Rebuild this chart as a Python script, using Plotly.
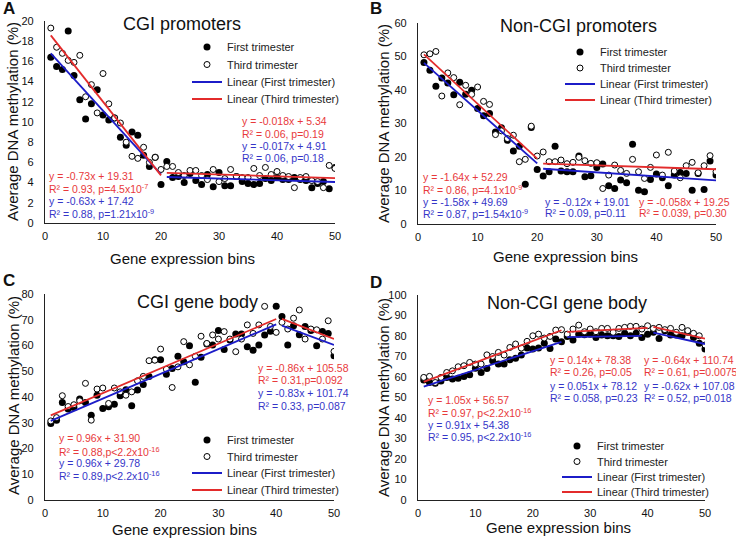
import plotly.graph_objects as go

W, H = 736, 538
FONT = "Liberation Sans, Arial, sans-serif"
RED_LINE = "#E32B2B"
BLUE_LINE = "#1C1CC8"
RED_TXT = "#E8393B"
BLUE_TXT = "#3535C8"
EQ_SIZE = 10.5

bins = list(range(1, 51))

# ---------------- data ----------------
a_first = [16.4, 15.5, 15.2, 19.0, 14.6, 12.2, 10.3, 11.8, 13.2, 10.7,
           10.2, 10.4, 8.5, 7.7, 9.0, 8.7, 6.7, 5.6, 6.5, 3.8,
           6.1, 4.5, 4.6, 4.0, 4.9, 4.2, 3.8, 4.8, 3.6, 5.0,
           3.7, 3.7, 4.6, 4.1, 3.9, 3.8, 3.9, 4.4, 4.2, 4.5,
           4.3, 4.3, 4.5, 4.3, 4.2, 3.5, 3.9, 4.1, 3.4, 5.5]
a_third = [19.3, 17.4, 16.8, 16.1, 15.9, 16.6, 12.5, 13.7, 10.9, 14.8,
           11.8, 10.4, 9.9, 8.0, 6.6, 6.4, 7.5, 6.0, 6.5, 5.3,
           5.6, 5.6, 5.0, 4.7, 5.2, 5.2, 4.7, 4.3, 5.3, 4.1,
           4.4, 5.3, 4.6, 4.5, 4.5, 5.4, 4.7, 5.5, 4.8, 5.1,
           4.7, 4.6, 3.5, 4.5, 4.6, 4.2, 4.1, 3.5, 5.7, 5.4]

b_first = [48.2, 45.9, 41.1, 43.6, 42.1, 38.6, 42.3, 38.7, 39.9, 34.5,
           32.3, 33.0, 27.5, 28.7, 25.0, 21.8, 23.2, 11.9, 28.8, 16.3,
           14.3, 15.6, 23.2, 15.8, 15.6, 15.6, 20.3, 14.1, 14.4, 16.9,
           17.9, 11.4, 10.6, 13.1, 12.3, 23.8, 10.1, 9.6, 13.3, 14.9,
           13.8, 11.4, 14.6, 15.4, 15.1, 10.1, 15.1, 10.3, 18.8, 14.6]
b_third = [50.5, 50.8, 51.5, 38.2, 45.1, 43.7, 35.6, 41.4, 38.7, 40.9,
           36.6, 35.7, 26.7, 27.8, 25.5, 26.5, 18.6, 19.3, 29.2, 20.3,
           21.5, 18.6, 18.6, 19.1, 18.0, 18.4, 19.9, 18.9, 18.1, 18.3,
           10.6, 14.6, 17.6, 16.0, 15.1, 19.3, 15.6, 13.6, 16.9, 20.6,
           14.6, 21.4, 15.8, 13.8, 17.4, 18.4, 15.3, 17.4, 20.4, 15.6]

c_first = [29.7, 31.0, 37.9, 35.3, 35.9, 39.2, 37.9, 32.9, 40.7, 35.5,
           36.2, 37.2, 40.5, 42.8, 36.6, 42.7, 44.9, 48.0, 54.5, 54.5,
           48.8, 51.1, 55.8, 53.7, 59.9, 45.7, 55.4, 60.6, 60.2, 65.8,
           58.4, 62.1, 64.5, 64.5, 59.5, 58.2, 60.2, 64.1, 65.5, 75.2,
           71.3, 60.2, 67.7, 64.2, 67.4, 65.8, 59.9, 65.4, 64.7, 56.0]
c_third = [30.7, 32.0, 40.5, 36.3, 37.0, 38.5, 45.3, 31.0, 43.1, 43.5,
           37.5, 43.5, 42.0, 40.7, 42.0, 46.3, 48.0, 54.1, 54.3, 58.6,
           50.8, 43.7, 51.7, 61.5, 52.5, 55.8, 63.6, 60.8, 64.1, 62.5,
           65.4, 62.5, 57.6, 62.5, 68.0, 64.7, 68.0, 75.2, 67.4, 65.1,
           69.0, 66.4, 70.6, 73.8, 62.5, 66.4, 66.1, 62.5, 69.6, 57.7]

d_first = [58.5, 57.3, 57.0, 58.1, 59.8, 59.0, 59.4, 60.3, 61.1, 64.3,
           62.2, 64.2, 67.9, 66.3, 66.3, 68.4, 69.1, 70.7, 74.1, 73.6,
           74.1, 76.5, 73.9, 78.5, 77.2, 79.8, 78.0, 80.9, 80.6, 80.9,
           79.3, 80.5, 80.1, 80.1, 79.8, 81.3, 80.1, 81.3, 79.3, 80.8,
           81.8, 78.8, 82.6, 80.5, 80.5, 80.1, 81.8, 79.3, 76.5, 73.6]
d_third = [59.8, 60.3, 57.3, 59.8, 62.2, 63.0, 65.0, 65.5, 67.1, 66.3,
           66.3, 70.8, 70.0, 72.0, 70.7, 74.4, 76.1, 74.1, 77.4, 80.1,
           80.9, 79.0, 79.8, 82.9, 83.1, 80.9, 83.4, 85.3, 82.1, 83.4,
           82.1, 83.7, 83.7, 81.8, 83.7, 84.2, 84.7, 84.7, 83.4, 85.0,
           83.7, 84.2, 83.1, 83.7, 81.8, 84.2, 82.6, 81.3, 80.1, 75.6]

# linear fits printed on the chart: (first bin, last bin, slope, intercept)
a_fit_first = [(1, 20, -0.63, 17.42), (21, 50, -0.017, 4.91)]
a_fit_third = [(1, 20, -0.73, 19.31), (21, 50, -0.018, 5.34)]
b_fit_first = [(1, 20, -1.58, 49.69), (21, 50, -0.12, 19.01)]
b_fit_third = [(1, 20, -1.64, 52.29), (21, 50, -0.058, 19.25)]
c_fit_first = [(1, 40, 0.96, 29.78), (41, 50, -0.83, 101.74)]
c_fit_third = [(1, 40, 0.96, 31.90), (41, 50, -0.86, 105.58)]
d_fit_first = [(1, 25, 0.91, 54.38), (26, 39, 0.051, 78.12), (41, 50, -0.62, 107.08)]
d_fit_third = [(1, 25, 1.05, 56.57), (26, 40, 0.14, 78.38), (41, 50, -0.64, 110.74)]

x_ticks = [0, 10, 20, 30, 40, 50]

titles = ["CGI promoters", "Non-CGI promoters", "CGI gene body", "Non-CGI gene body"]
letters = ["A", "B", "C", "D"]
x_title = "Gene expression bins"
y_title = "Average DNA methylation (%)"
legend_names = ["First trimester", "Third trimester",
                "Linear (First trimester)", "Linear (Third trimester)"]

R, B = "r", "b"
# equation blocks: (left px, [row centre px], [texts], [colours])
a_eqs = [
    (47, [175.7, 189, 201.3, 213.5],
     ["y = -0.73x + 19.31", "R² = 0.93, p=4.5x10<sup>-7</sup>",
      "y = -0.63x + 17.42", "R² = 0.88, p=1.21x10<sup>-9</sup>"], [R, R, B, B]),
    (240, [120.7, 134, 146.3, 158.5],
     ["y = -0.018x + 5.34", "R² = 0.06, p=0.19",
      "y = -0.017x + 4.91", "R² = 0.06, p=0.18"], [R, R, B, B]),
]
b_eqs = [
    (420.5, [176.7, 189.3, 201.7, 213.5],
     ["y = -1.64x + 52.29", "R² = 0.86, p=4.1x10<sup>-9</sup>",
      "y = -1.58x + 49.69", "R² = 0.87, p=1.54x10<sup>-9</sup>"], [R, R, B, B]),
    (543, [201.7, 213.5], ["y = -0.12x + 19.01", "R² = 0.09, p=0.11"], [B, B]),
    (636.5, [201.7, 213.5], ["y = -0.058x + 19.25", "R² = 0.039, p=0.30"], [R, R]),
]
c_eqs = [
    (57, [438.3, 451.3, 463, 475],
     ["y = 0.96x + 31.90", "R² = 0.88,p<2.2x10<sup>-16</sup>",
      "y = 0.96x + 29.78", "R² = 0.89,p<2.2x10<sup>-16</sup>"], [R, R, B, B]),
    (256, [368, 380, 393.3, 405.7],
     ["y = -0.86x + 105.58", "R² = 0.31,p=0.092",
      "y = -0.83x + 101.74", "R² = 0.33, p=0.087"], [R, R, B, B]),
]
d_eqs = [
    (426, [399.7, 412.3, 424.7, 436.5],
     ["y = 1.05x + 56.57", "R² = 0.97, p<2.2x10<sup>-16</sup>",
      "y = 0.91x + 54.38", "R² = 0.95, p<2.2x10<sup>-16</sup>"], [R, R, B, B]),
    (548, [359.7, 372, 385.7, 398],
     ["y = 0.14x + 78.38", "R² = 0.26, p=0.05",
      "y = 0.051x + 78.12", "R² = 0.058, p=0.23"], [R, R, B, B]),
    (642, [359.7, 372, 385.7, 398],
     ["y = -0.64x + 110.74", "R² = 0.61, p=0.0075",
      "y = -0.62x + 107.08", "R² = 0.52, p=0.018"], [R, R, B, B]),
]


def px(v):
    return v / W


def py(v):
    return 1 - v / H


panels = [
    dict(first=a_first, third=a_third, ffit=a_fit_first, tfit=a_fit_third, eqs=a_eqs,
         xdom=(45, 335), ydom=(223, 21), yrange=20, dtick=2,
         title_xy=(182, 24), letter_xy=(9, 8), xt_xy=(182, 258), yt_xy=(13, 122),
         leg_x=187, leg_rows=[47, 64.5, 82, 99]),
    dict(first=b_first, third=b_third, ffit=b_fit_first, tfit=b_fit_third, eqs=b_eqs,
         xdom=(418, 716), ydom=(224, 23), yrange=60, dtick=10,
         title_xy=(578, 26), letter_xy=(376, 8), xt_xy=(565, 257), yt_xy=(383, 123),
         leg_x=560, leg_rows=[52, 68, 84, 100]),
    dict(first=c_first, third=c_third, ffit=c_fit_first, tfit=c_fit_third, eqs=c_eqs,
         xdom=(45, 334), ydom=(500, 294), yrange=80, dtick=10,
         title_xy=(197, 302), letter_xy=(9, 280), xt_xy=(185, 529), yt_xy=(13, 396),
         leg_x=187, leg_rows=[440, 456.5, 473, 490]),
    dict(first=d_first, third=d_third, ffit=d_fit_first, tfit=d_fit_third, eqs=d_eqs,
         xdom=(418, 705), ydom=(500, 295), yrange=100, dtick=10,
         title_xy=(567, 303), letter_xy=(376, 282), xt_xy=(558, 527), yt_xy=(383, 397),
         leg_x=557, leg_rows=[446, 461.5, 477, 492]),
]

fig = go.Figure()
layout = {}
annotations = []
leg_i = 0


def next_legend():
    global leg_i
    leg_i += 1
    return "legend" if leg_i == 1 else f"legend{leg_i}"


for i, p in enumerate(panels):
    n = "" if i == 0 else str(i + 1)
    xref, yref = f"x{n}", f"y{n}"
    layout[f"xaxis{n}"] = dict(
        domain=[px(p["xdom"][0]), px(p["xdom"][1])], range=[0, 50], anchor=yref,
        tickvals=x_ticks, showline=True, linecolor="#222", linewidth=1.2,
        showgrid=False, zeroline=False, ticks="", ticklabelstandoff=3, automargin=False,
        tickfont=dict(size=11, color="#111", family=FONT), fixedrange=True)
    layout[f"yaxis{n}"] = dict(
        domain=[py(p["ydom"][0]), py(p["ydom"][1])], range=[0, p["yrange"]], anchor=xref,
        dtick=p["dtick"], tick0=0, showline=True, linecolor="#222", linewidth=1.2,
        showgrid=False, zeroline=False, ticks="", ticklabelstandoff=8, automargin=False,
        tickfont=dict(size=11, color="#111", family=FONT), fixedrange=True)

    legs = [next_legend() for _ in range(4)]
    for lg, row in zip(legs, p["leg_rows"]):
        layout[lg] = dict(x=px(p["leg_x"]), y=py(row), xref="container", yref="container",
                          xanchor="left", yanchor="middle",
                          bgcolor="rgba(0,0,0,0)", borderwidth=0, visible=True,
                          font=dict(size=11, color="#222", family=FONT),
                          itemwidth=30, tracegroupgap=0)

    fig.add_trace(go.Scatter(x=bins, y=p["first"], mode="markers", xaxis=xref, yaxis=yref,
                             name=legend_names[0], legend=legs[0], showlegend=True,
                             marker=dict(size=7, color="black", line=dict(width=0))))
    fig.add_trace(go.Scatter(x=bins, y=p["third"], mode="markers", xaxis=xref, yaxis=yref,
                             name=legend_names[1], legend=legs[1], showlegend=True,
                             marker=dict(size=6, color="white",
                                         line=dict(width=1, color="black"))))
    for fits, color, nm, lg in ((p["ffit"], BLUE_LINE, legend_names[2], legs[2]),
                                (p["tfit"], RED_LINE, legend_names[3], legs[3])):
        for k, (x0, x1, m, c) in enumerate(fits):
            fig.add_trace(go.Scatter(x=[x0, x1], y=[m * x0 + c, m * x1 + c], mode="lines",
                                     xaxis=xref, yaxis=yref, name=nm, legend=lg,
                                     showlegend=(k == 0),
                                     line=dict(color=color, width=1.8)))

    # text
    annotations.append(dict(text=titles[i], x=px(p["title_xy"][0]), y=py(p["title_xy"][1]),
                            xref="paper", yref="paper", showarrow=False,
                            xanchor="center", yanchor="middle",
                            font=dict(size=18, color="#111", family=FONT)))
    annotations.append(dict(text=f"<b>{letters[i]}</b>", x=px(p["letter_xy"][0]),
                            y=py(p["letter_xy"][1]), xref="paper", yref="paper",
                            showarrow=False, xanchor="center", yanchor="middle",
                            font=dict(size=17, color="#111", family=FONT)))
    annotations.append(dict(text=x_title, x=px(p["xt_xy"][0]), y=py(p["xt_xy"][1]),
                            xref="paper", yref="paper", showarrow=False,
                            xanchor="center", yanchor="middle",
                            font=dict(size=15, color="#111", family=FONT)))
    annotations.append(dict(text=y_title, x=px(p["yt_xy"][0]), y=py(p["yt_xy"][1]),
                            xref="paper", yref="paper", showarrow=False, textangle=-90,
                            xanchor="center", yanchor="middle",
                            font=dict(size=15, color="#111", family=FONT)))
    for left, rows, texts, cols in p["eqs"]:
        for r, t, col in zip(rows, texts, cols):
            annotations.append(dict(text=t, x=px(left), y=py(r), xref="paper", yref="paper",
                                    showarrow=False, xanchor="left", yanchor="middle",
                                    font=dict(size=EQ_SIZE, family=FONT,
                                              color=RED_TXT if col == R else BLUE_TXT)))

fig.update_layout(**layout)
fig.update_layout(width=W, height=H, margin=dict(l=0, r=0, t=0, b=0, pad=0, autoexpand=False),
                  showlegend=True,
                  paper_bgcolor="white", plot_bgcolor="white",
                  font=dict(family=FONT, size=11, color="#111"),
                  annotations=annotations)

fig.write_html("out.html", config={"displayModeBar": False},
               post_script="document.body.style.margin='0';document.body.style.padding='0';")
